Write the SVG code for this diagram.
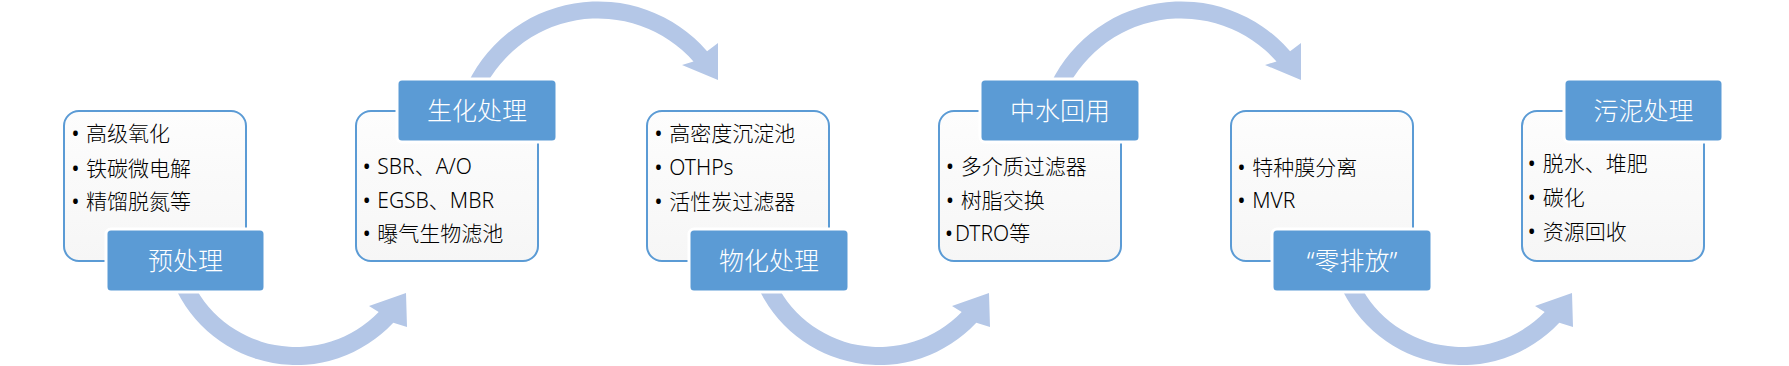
<svg xmlns="http://www.w3.org/2000/svg" xmlns:xlink="http://www.w3.org/1999/xlink" width="1789" height="366" viewBox="0 0 1789 366">
<defs>
<style>
.box{fill:url(#bg);stroke:#5b9bd5;stroke-width:2}
.lab{fill:#5b9bd5;stroke:#ffffff;stroke-width:3}
.arrow{fill:#b4c7e7}
.t{font-family:"Noto Sans","Noto Sans CJK SC",sans-serif;font-size:21px;font-weight:300;fill:#000}
.b{font-family:"Noto Sans","Noto Sans CJK SC",sans-serif;font-size:21px;fill:#000;text-anchor:middle}
.lt{font-family:"Noto Sans","Noto Sans CJK SC",sans-serif;font-size:25px;font-weight:300;fill:#ffffff;text-anchor:middle}
</style>
<linearGradient id="bg" x1="0" y1="0" x2="0" y2="1">
<stop offset="0" stop-color="#fdfdfd"/>
<stop offset="1" stop-color="#f6f6f6"/>
</linearGradient>
<path id="arrBottom" class="arrow" d="M173.6 284 A133 133 0 0 0 393.3 322.7 L407 327 L406 293 L369 306 L378.7 311.9 A115 115 0 0 1 190.1 276.9 Z"/>
<path id="arrTop" class="arrow" d="M464 91.9 A144.5 144.5 0 0 1 707.1 51.2 L718 43 L718 80 L682 65 L693.5 61.5 A127.5 127.5 0 0 0 479.8 98.2 Z"/>
</defs>
<rect width="1789" height="366" fill="#ffffff"/>
<g id="connectors">
<use xlink:href="#arrBottom"/>
<use xlink:href="#arrBottom" transform="translate(583 0)"/>
<use xlink:href="#arrBottom" transform="translate(1166 0)"/>
<use xlink:href="#arrTop"/>
<use xlink:href="#arrTop" transform="translate(583 0)"/>
</g>
<g id="node1">
<rect class="box" x="64" y="111" width="182" height="150" rx="15"/>
<text class="b" x="75.5" y="141">•</text><text class="t" x="86" y="141">高级氧化</text>
<text class="b" x="75.5" y="175.5">•</text><text class="t" x="86" y="175.5">铁碳微电解</text>
<text class="b" x="75.5" y="209">•</text><text class="t" x="86" y="209">精馏脱氮等</text>
<rect class="lab" x="106" y="229" width="159" height="63" rx="5"/>
<text class="lt" x="185.5" y="270">预处理</text>
</g>
<g id="node2">
<rect class="box" x="356" y="111" width="182" height="150" rx="15"/>
<text class="b" x="366.7" y="173.5">•</text><text class="t" x="377.3" y="173.5">SBR、A/O</text>
<text class="b" x="366.7" y="207.5">•</text><text class="t" x="377.3" y="207.5">EGSB、MBR</text>
<text class="b" x="366.7" y="241">•</text><text class="t" x="377.3" y="241">曝气生物滤池</text>
<rect class="lab" x="397" y="79" width="160" height="63" rx="5"/>
<text class="lt" x="477" y="120">生化处理</text>
</g>
<g id="node3">
<rect class="box" x="647" y="111" width="182" height="150" rx="15"/>
<text class="b" x="658.5" y="141">•</text><text class="t" x="669.3" y="141">高密度沉淀池</text>
<text class="b" x="658.5" y="174.8">•</text><text class="t" x="669.3" y="174.8">OTHPs</text>
<text class="b" x="658.5" y="209">•</text><text class="t" x="669.3" y="209">活性炭过滤器</text>
<rect class="lab" x="689" y="229" width="160" height="63" rx="5"/>
<text class="lt" x="769" y="270">物化处理</text>
</g>
<g id="node4">
<rect class="box" x="939" y="111" width="182" height="150" rx="15"/>
<text class="b" x="950" y="174">•</text><text class="t" x="960.7" y="174">多介质过滤器</text>
<text class="b" x="950" y="208">•</text><text class="t" x="960.7" y="208">树脂交换</text>
<text class="b" x="949" y="241">•</text><text class="t" x="955" y="241">DTRO等</text>
<rect class="lab" x="980" y="79" width="160" height="63" rx="5"/>
<text class="lt" x="1060" y="120">中水回用</text>
</g>
<g id="node5">
<rect class="box" x="1231" y="111" width="182" height="150" rx="15"/>
<text class="b" x="1241.5" y="175">•</text><text class="t" x="1252.3" y="175">特种膜分离</text>
<text class="b" x="1241.5" y="208.3">•</text><text class="t" x="1252.3" y="208.3">MVR</text>
<rect class="lab" x="1272" y="229" width="160" height="63" rx="5"/>
<text class="lt" x="1352" y="270">“零排放”</text>
</g>
<g id="node6">
<rect class="box" x="1522" y="111" width="182" height="150" rx="15"/>
<text class="b" x="1531.7" y="171">•</text><text class="t" x="1542.7" y="171">脱水、堆肥</text>
<text class="b" x="1531.7" y="204.5">•</text><text class="t" x="1542.7" y="204.5">碳化</text>
<text class="b" x="1531.7" y="238.5">•</text><text class="t" x="1542.7" y="238.5">资源回收</text>
<rect class="lab" x="1564" y="79" width="159" height="63" rx="5"/>
<text class="lt" x="1643.5" y="120">污泥处理</text>
</g>
</svg>
